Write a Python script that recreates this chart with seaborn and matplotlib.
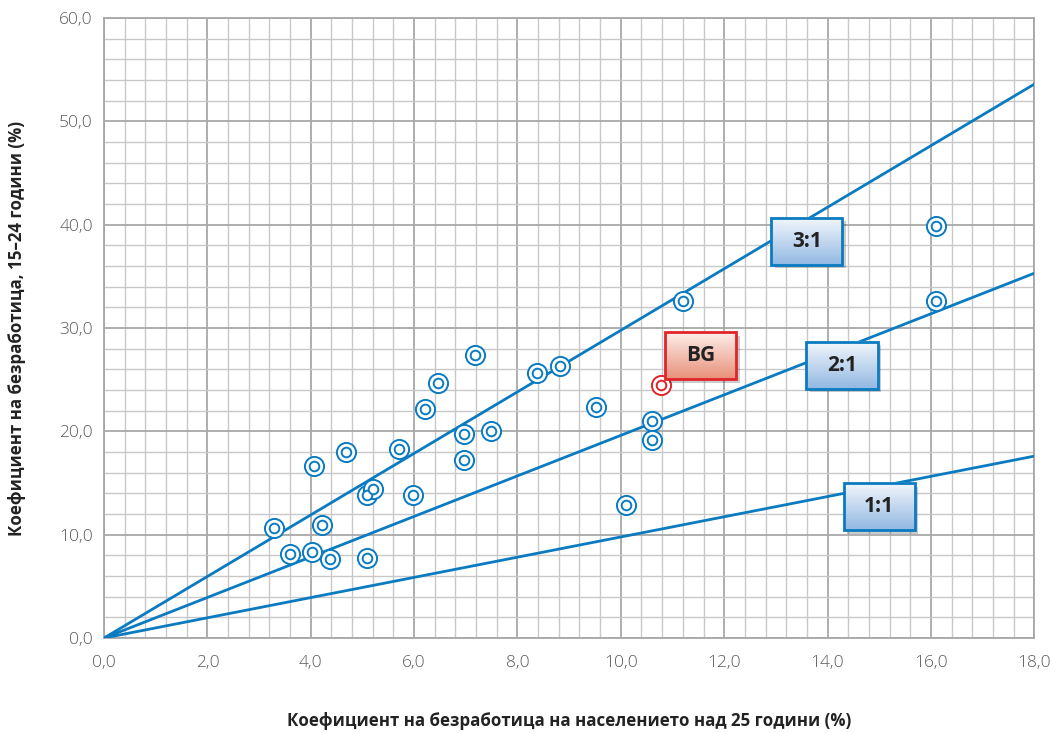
import numpy as np
import pandas as pd
import seaborn as sns
from matplotlib import pyplot as plt
from matplotlib.patches import Rectangle
from matplotlib.colors import to_rgb
from matplotlib.ticker import MultipleLocator, FuncFormatter

# adult (25+) vs youth (15-24) unemployment, %
adult_rate = [3.28, 3.60, 4.03, 4.07, 4.22, 4.38, 4.69, 5.08, 5.21, 5.08,
              5.70, 5.97, 6.22, 6.47, 6.96, 6.96, 7.17, 7.48, 8.37, 8.82,
              9.52, 10.10, 10.60, 10.60, 11.20, 16.10, 16.10]
youth_rate = [10.65, 8.1, 8.3, 16.65, 10.9, 7.6, 18.0, 13.8, 14.4, 7.7,
              18.3, 13.8, 22.2, 24.7, 19.7, 17.2, 27.4, 20.0, 25.6, 26.3,
              22.4, 12.9, 21.0, 19.2, 32.6, 39.9, 32.6]
bg_adult = [10.78]
bg_youth = [24.5]

ratio_names = ['1:1', '2:1', '3:1']
line_x = [0.0, 18.0]
line_end_y = [17.6, 35.3, 53.6]
ratio_label_x = [15.0, 14.28, 13.6]
ratio_label_y = [12.7, 26.4, 38.4]
bg_label = ('BG', 11.55, 27.3)

blue = '#0a7bc1'
red = '#e0242b'

sns.set_style('white')
plt.rcParams['font.family'] = ['Open Sans', 'DejaVu Sans']

fig = plt.figure(figsize=(10.53, 7.33), dpi=100)
ax = fig.add_axes([0.0988, 0.1296, 0.8834, 0.8458])

# ratio lines
for name, ye in zip(ratio_names, line_end_y):
    d = pd.DataFrame({'x': line_x, 'y': [0.0, ye]})
    sns.lineplot(data=d, x='x', y='y', ax=ax, color=blue, lw=2.0, zorder=3)

# double ring markers
pts = pd.DataFrame({'x': adult_rate, 'y': youth_rate})
sns.scatterplot(data=pts, x='x', y='y', ax=ax, s=190, facecolor='white',
                edgecolor=blue, linewidth=1.4, zorder=4)
sns.scatterplot(data=pts, x='x', y='y', ax=ax, s=48, facecolor='white',
                edgecolor=blue, linewidth=1.4, zorder=5)
bg = pd.DataFrame({'x': bg_adult, 'y': bg_youth})
sns.scatterplot(data=bg, x='x', y='y', ax=ax, s=190, facecolor='white',
                edgecolor=red, linewidth=1.4, zorder=4)
sns.scatterplot(data=bg, x='x', y='y', ax=ax, s=48, facecolor='white',
                edgecolor=red, linewidth=1.4, zorder=5)

# gradient label boxes (light at the top, darker at the bottom)
bw, bh = 1.375, 4.55
def label_box(txt, cx, cy, top, bottom, edge):
    x0, y0 = cx - bw / 2, cy - bh / 2
    ax.add_patch(Rectangle((x0 + 0.07, y0 - 0.35), bw, bh, facecolor='#000000',
                           alpha=0.2, lw=0, zorder=6))
    grad = np.linspace(0, 1, 64).reshape(-1, 1)
    c_bot = np.array(to_rgb(bottom))
    c_top = np.array(to_rgb(top))
    img = c_bot + (c_top - c_bot) * grad[:, :, None]   # row 0 = bottom
    img = np.repeat(img, 2, axis=1)
    ax.imshow(img, extent=(x0, x0 + bw, y0, y0 + bh), origin='lower',
              aspect='auto', zorder=7, interpolation='bilinear')
    ax.add_patch(Rectangle((x0, y0), bw, bh, facecolor='none', edgecolor=edge,
                           lw=2.0, zorder=8))
    ax.text(cx, cy, txt, ha='center', va='center', fontsize=15,
            fontweight='bold', color='#222222', zorder=9)

for name, lx, ly in zip(ratio_names, ratio_label_x, ratio_label_y):
    label_box(name, lx, ly, '#f3f7fc', '#92b8e2', blue)
label_box(bg_label[0], bg_label[1], bg_label[2], '#fdf0ec', '#e8917a', red)

ax.set_xlim(0, 18)
ax.set_ylim(0, 60)
ax.xaxis.set_major_locator(MultipleLocator(2))
ax.xaxis.set_minor_locator(MultipleLocator(0.4))
ax.yaxis.set_major_locator(MultipleLocator(10))
ax.yaxis.set_minor_locator(MultipleLocator(2))
fmt = FuncFormatter(lambda v, p: f'{v:.1f}'.replace('.', ','))
ax.xaxis.set_major_formatter(fmt)
ax.yaxis.set_major_formatter(fmt)
ax.grid(which='minor', color='#c8c8c8', lw=1.0, zorder=0)
ax.grid(which='major', color='#a8a8a8', lw=1.3, zorder=1)
ax.set_axisbelow(True)
for s in ax.spines.values():
    s.set_color('#a8a8a8')
    s.set_linewidth(1.3)
ax.tick_params(which='both', length=0, labelsize=12.5, labelcolor='#5a5a5a')
for lab in ax.get_xticklabels() + ax.get_yticklabels():
    lab.set_fontweight('light')
ax.tick_params(axis='x', pad=12)
ax.tick_params(axis='y', pad=8)

ax.set_xlabel('Коефициент на безработица на населението над 25 години (%)',
              fontsize=12.2, fontweight='bold', color='#222222', labelpad=30)
ax.set_ylabel('Коефициент на безработица, 15–24 години (%)',
              fontsize=12.2, fontweight='bold', color='#222222', labelpad=24)

fig.savefig('out.png', dpi=100)
